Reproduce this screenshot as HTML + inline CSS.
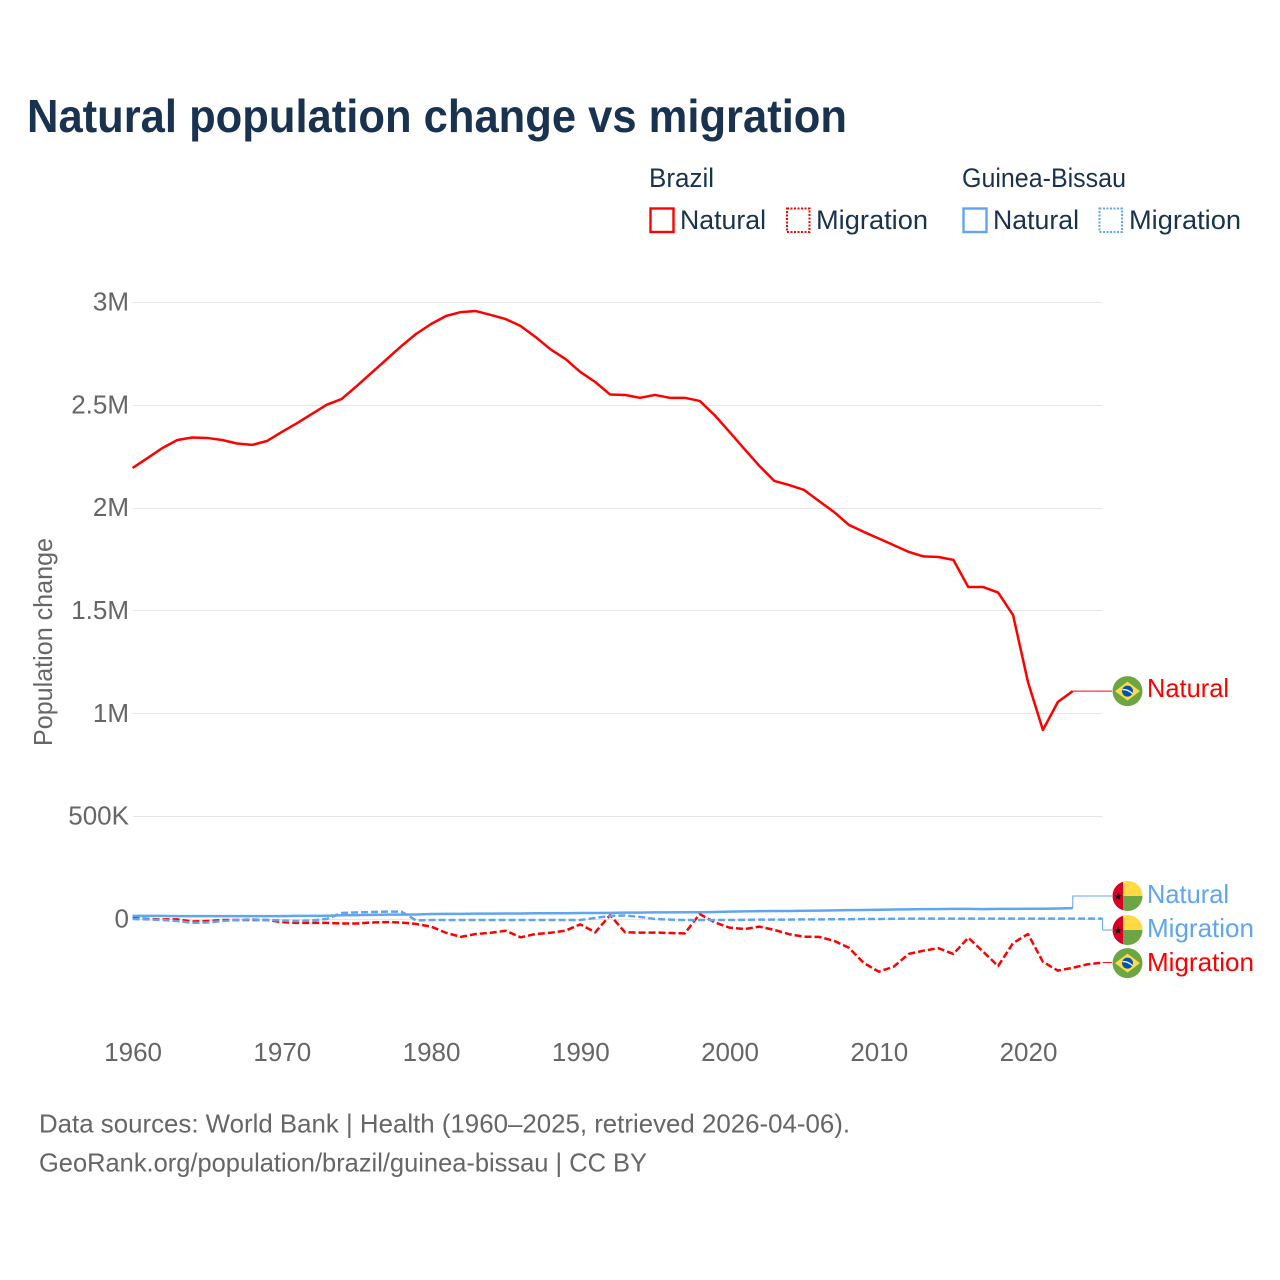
<!DOCTYPE html>
<html lang="en">
<head>
<meta charset="utf-8">
<title>Natural population change vs migration</title>
<style>
html,body{margin:0;padding:0;background:#fff;width:1280px;height:1280px;overflow:hidden}
svg{display:block}
text{font-family:"Liberation Sans",sans-serif}
</style>
</head>
<body>
<svg id="chart" xmlns="http://www.w3.org/2000/svg" width="1280" height="1280" viewBox="0 0 1280 1280">
  <rect x="0" y="0" width="1280" height="1280" fill="#fff"/>
  <text x="27" y="132" font-size="46" font-weight="700" fill="#18324f" textLength="820" lengthAdjust="spacingAndGlyphs">Natural population change vs migration</text>

  <g font-size="27" fill="#18324f">
    <text x="649" y="187" textLength="65" lengthAdjust="spacingAndGlyphs">Brazil</text>
    <text x="962" y="187" textLength="164" lengthAdjust="spacingAndGlyphs">Guinea-Bissau</text>
    <g>
      <rect x="650.5" y="208.5" width="23" height="23.5" fill="none" stroke="#ff0000" stroke-width="2.4"/>
      <text x="680" y="229" textLength="86" lengthAdjust="spacingAndGlyphs">Natural</text>
    </g>
    <g>
      <rect x="787" y="208.5" width="22.5" height="23.5" fill="none" stroke="#ff0000" stroke-width="2" stroke-dasharray="2 1.5"/>
      <text x="816" y="229" textLength="112" lengthAdjust="spacingAndGlyphs">Migration</text>
    </g>
    <g>
      <rect x="963.5" y="208.5" width="23" height="23.5" fill="none" stroke="#60a5f0" stroke-width="2.4"/>
      <text x="993" y="229" textLength="86" lengthAdjust="spacingAndGlyphs">Natural</text>
    </g>
    <g>
      <rect x="1099.5" y="208.5" width="22.5" height="23.5" fill="none" stroke="#60a5f0" stroke-width="2" stroke-dasharray="2 1.5"/>
      <text x="1129" y="229" textLength="112" lengthAdjust="spacingAndGlyphs">Migration</text>
    </g>
  </g>

  <text transform="translate(52,642) rotate(-90)" text-anchor="middle" font-size="26" fill="#666666" textLength="208" lengthAdjust="spacingAndGlyphs">Population change</text>

  <g id="grid"></g>
  <g id="yticks" font-size="26" fill="#666666" text-anchor="end"></g>
  <g id="xticks" font-size="26" fill="#666666" text-anchor="middle"></g>
  <g id="series"></g>

  <g id="flag-br-natural">
    <circle cx="0" cy="0" r="15" fill="#6da544"/>
    <path d="M0 -9.5 L12.5 0 L0 9.5 L-12.5 0 Z" fill="#ffda44"/>
    <circle cx="0" cy="0" r="5.5" fill="#0052b4"/>
    <path d="M-5 -1.5 Q0 -2 5 2.5" fill="none" stroke="#f0f0f0" stroke-width="1.4"/>
  </g>
  <g id="flag-br-migration">
    <circle cx="0" cy="0" r="15" fill="#6da544"/>
    <path d="M0 -9.5 L12.5 0 L0 9.5 L-12.5 0 Z" fill="#ffda44"/>
    <circle cx="0" cy="0" r="5.5" fill="#0052b4"/>
    <path d="M-5 -1.5 Q0 -2 5 2.5" fill="none" stroke="#f0f0f0" stroke-width="1.4"/>
  </g>
  <g id="flag-gw-natural">
    <path d="M-4.5 -14.3 A15 15 0 0 0 -4.5 14.3 Z" fill="#d80027"/>
    <path d="M-4.5 -14.3 A15 15 0 0 1 15 0 L-4.5 0 Z" fill="#ffda44"/>
    <path d="M-4.5 14.3 A15 15 0 0 0 15 0 L-4.5 0 Z" fill="#6da544"/>
    <path d="M-9.5 -3.7 L-8.5 -0.9 L-5.5 -0.8 L-7.9 1 L-7 3.9 L-9.5 2.2 L-12 3.9 L-11.1 1 L-13.5 -0.8 L-10.5 -0.9 Z" fill="#111"/>
  </g>
  <g id="flag-gw-migration">
    <path d="M-4.5 -14.3 A15 15 0 0 0 -4.5 14.3 Z" fill="#d80027"/>
    <path d="M-4.5 -14.3 A15 15 0 0 1 15 0 L-4.5 0 Z" fill="#ffda44"/>
    <path d="M-4.5 14.3 A15 15 0 0 0 15 0 L-4.5 0 Z" fill="#6da544"/>
    <path d="M-9.5 -3.7 L-8.5 -0.9 L-5.5 -0.8 L-7.9 1 L-7 3.9 L-9.5 2.2 L-12 3.9 L-11.1 1 L-13.5 -0.8 L-10.5 -0.9 Z" fill="#111"/>
  </g>

  <g font-size="26">
    <text id="label-br-natural" x="1147" fill="#ff0000" textLength="82" lengthAdjust="spacingAndGlyphs">Natural</text>
    <text id="label-gw-natural" x="1147" fill="#60a5f0" textLength="82" lengthAdjust="spacingAndGlyphs">Natural</text>
    <text id="label-gw-migration" x="1147" fill="#60a5f0" textLength="107" lengthAdjust="spacingAndGlyphs">Migration</text>
    <text id="label-br-migration" x="1147" fill="#ff0000" textLength="107" lengthAdjust="spacingAndGlyphs">Migration</text>
  </g>

  <g font-size="26" fill="#666666">
    <text x="39" y="1132.5" textLength="811" lengthAdjust="spacingAndGlyphs">Data sources: World Bank | Health (1960–2025, retrieved 2026-04-06).</text>
    <text x="39" y="1171.5" textLength="608" lengthAdjust="spacingAndGlyphs">GeoRank.org/population/brazil/guinea-bissau | CC BY</text>
  </g>
</svg>
<script>
// Chart data: population change in thousands per year, first value is 1960.
const firstYear = 1960;
const lastYear = 2025;
const xTickYears = [1960, 1970, 1980, 1990, 2000, 2010, 2020];
const yTickValues = [0, 500, 1000, 1500, 2000, 2500, 3000];
const yTickLabels = ['0', '500K', '1M', '1.5M', '2M', '2.5M', '3M'];
const brazilNatural = [
  2193, 2241, 2290, 2329, 2341, 2339, 2329, 2312, 2305, 2324,
  2368, 2410, 2455, 2500, 2528, 2590, 2655, 2720, 2785, 2845,
  2893, 2932, 2951, 2956, 2937, 2917, 2883, 2830, 2770, 2723,
  2660, 2611, 2550, 2548, 2534, 2548, 2534, 2534, 2519, 2450,
  2368, 2285, 2203, 2130, 2110, 2086, 2032, 1979, 1916, 1882,
  1850, 1818, 1785, 1763, 1760, 1746, 1614, 1614, 1587, 1478,
  1152, 919, 1055, 1108
];
const brazilMigration = [
  5, 0, -2, -2, -12, -10, -5, -5, -5, -5,
  -15, -19, -19, -19, -22, -22, -17, -15, -17, -24,
  -37, -67, -87, -73, -67, -57, -89, -73, -67, -57,
  -26, -65, 19, -65, -66, -66, -68, -70, 24, -16,
  -42, -49, -37, -53, -74, -86, -87, -106, -140, -214,
  -256, -232, -170, -154, -142, -170, -91, -159, -229, -117,
  -73, -208, -251, -237, -220, -212
];
const guineaNatural = [
  15, 15, 15, 14, 14, 14, 14, 14, 14, 14,
  14, 15, 15, 16, 18, 19, 20, 21, 21, 22,
  24, 25, 25, 26, 26, 27, 27, 28, 28, 28,
  29, 29, 30, 31, 31, 32, 32, 33, 33, 34,
  36, 37, 38, 39, 39, 40, 41, 42, 43, 44,
  45, 46, 47, 48, 48, 49, 49, 48, 49, 49,
  50, 50, 51, 53
];
const guineaMigration = [
  0, -2, -5, -10, -19, -17, -10, -5, -2, -5,
  -7, -10, -7, 0, 29, 32, 34, 36, 36, -7,
  -5, -5, -5, -5, -5, -5, -5, -5, -5, -5,
  -5, 5, 15, 17, 10, 0, -3, -5, -5, -5,
  -5, -4, -3, -3, -3, -2, -2, -1, -1, 0,
  0, 1, 2, 2, 2, 2, 2, 2, 2, 2,
  2, 2, 2, 2, 2, 2
];

const NS = 'http://www.w3.org/2000/svg';
const xLeft = 132.6, xRight = 1102.6, yZero = 919, yPerThousand = 0.20567;
function xScale(year) {
  return xLeft + (year - firstYear) * (xRight - xLeft) / (lastYear - firstYear);
}
function yScale(value) {
  return yZero - value * yPerThousand;
}
function linePath(values) {
  return values.map(function (v, i) {
    return (i ? 'L' : 'M') + xScale(firstYear + i).toFixed(2) + ' ' + yScale(v).toFixed(2);
  }).join(' ');
}

const gridGroup = document.getElementById('grid');
const yTickGroup = document.getElementById('yticks');
yTickValues.forEach(function (v, i) {
  const y = Math.round(yScale(v)) + 0.5;
  const ln = document.createElementNS(NS, 'line');
  
  
  ln.setAttribute('x1', xLeft);
  ln.setAttribute('x2', xRight);
  ln.setAttribute('y1', y);
  ln.setAttribute('y2', y);
  ln.setAttribute('stroke', '#e6e6e6');
  ln.setAttribute('stroke-width', '1');
  gridGroup.appendChild(ln);
  const t = document.createElementNS(NS, 'text');
  
  
  t.setAttribute('x', 129);
  t.setAttribute('y', yScale(v) + 8.5);
  t.textContent = yTickLabels[i];
  yTickGroup.appendChild(t);
});

const xTickGroup = document.getElementById('xticks');
xTickYears.forEach(function (yr) {
  const t = document.createElementNS(NS, 'text');
  
  
  t.setAttribute('x', xScale(yr) + 0.5);
  t.setAttribute('y', 1061);
  t.textContent = String(yr);
  xTickGroup.appendChild(t);
});

const RED = '#ff0000', BLUE = '#60a5f0';
const seriesGroup = document.getElementById('series');

function drawLine(values, color, dashed, name) {
  const p = document.createElementNS(NS, 'path');
  
  
  p.setAttribute('d', linePath(values));
  p.setAttribute('fill', 'none');
  p.setAttribute('stroke', color);
  p.setAttribute('stroke-width', '2.5');
  p.setAttribute('stroke-linejoin', 'round');
  if (dashed) p.setAttribute('stroke-dasharray', '7 3');
  seriesGroup.appendChild(p);
}

function drawConnector(values, color, labelY, name) {
  const lastX = xScale(firstYear + values.length - 1);
  const lastY = yScale(values[values.length - 1]);
  const c = document.createElementNS(NS, 'path');
  
  
  c.setAttribute('d', 'M' + lastX + ' ' + lastY + ' V' + labelY + ' H1112');
  c.setAttribute('fill', 'none');
  c.setAttribute('stroke', color);
  c.setAttribute('stroke-width', '1');
  seriesGroup.appendChild(c);
}

function placeEnd(flagId, labelId, y, labelOffset) {
  document.getElementById(flagId).setAttribute('transform', 'translate(1127.5,' + y + ')');
  document.getElementById(labelId).setAttribute('y', y + labelOffset);
}

const brNatY = yScale(brazilNatural[brazilNatural.length - 1]);
const brMigY = yScale(brazilMigration[brazilMigration.length - 1]);
const gwNatY = 896, gwMigY = 930;

drawLine(brazilNatural, RED, false, 'line-brazil-natural');
drawLine(brazilMigration, RED, true, 'line-brazil-migration');
drawLine(guineaNatural, BLUE, false, 'line-guinea-bissau-natural');
drawLine(guineaMigration, BLUE, true, 'line-guinea-bissau-migration');
drawConnector(brazilNatural, RED, brNatY, 'connector-brazil-natural');
drawConnector(brazilMigration, RED, brMigY, 'connector-brazil-migration');
drawConnector(guineaNatural, BLUE, gwNatY, 'connector-guinea-bissau-natural');
drawConnector(guineaMigration, BLUE, gwMigY, 'connector-guinea-bissau-migration');

placeEnd('flag-br-natural', 'label-br-natural', brNatY, 6);
placeEnd('flag-br-migration', 'label-br-migration', brMigY + 0.5, 8);
placeEnd('flag-gw-natural', 'label-gw-natural', gwNatY, 7);
placeEnd('flag-gw-migration', 'label-gw-migration', gwMigY, 7);
</script>
</body>
</html>
